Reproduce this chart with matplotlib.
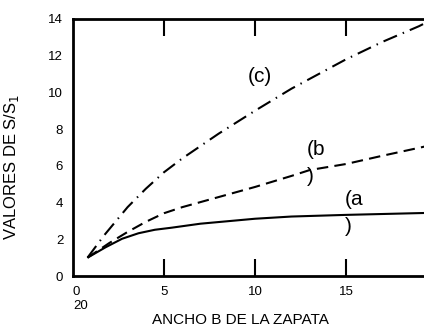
import matplotlib
matplotlib.use('Agg')
import matplotlib.pyplot as plt

plt.rcParams['font.family'] = ['Liberation Sans', 'DejaVu Sans']

# ancho de zapata B y relaciones S/S1 para cada curva
ancho_a = [0.8, 1.8, 2.7, 3.6, 4.5, 5.4, 7.0, 10.0, 12.0, 15.0, 20.0]
curva_a = [1.0, 1.57, 2.03, 2.33, 2.52, 2.63, 2.85, 3.12, 3.24, 3.33, 3.45]

ancho_b = [0.8, 2.0, 3.0, 4.0, 5.0, 6.0, 8.0, 10.0, 12.0, 13.0, 15.0, 17.0, 19.0, 20.0]
curva_b = [1.0, 1.8, 2.4, 2.95, 3.42, 3.75, 4.3, 4.85, 5.45, 5.77, 6.1, 6.55, 6.98, 7.2]

ancho_c = [0.8, 1.7, 3.0, 4.0, 5.0, 6.0, 8.0, 10.0, 12.0, 15.0, 17.0, 19.0, 19.3]
curva_c = [1.0, 2.2, 3.75, 4.75, 5.65, 6.4, 7.75, 9.0, 10.2, 11.8, 12.75, 13.6, 13.75]

xticks = [0, 5, 10, 15]
xlabels = ['0\n20', '5', '10', '15']
yticks = [0, 2, 4, 6, 8, 10, 12, 14]

fig = plt.figure(figsize=(4.24, 3.31), dpi=100)
ax = fig.add_axes([0.172, 0.166, 0.859, 0.777])

ax.plot(ancho_a, curva_a, color='black', lw=1.5, solid_capstyle='butt')
ax.plot(ancho_b, curva_b, color='black', lw=1.5, dashes=(5.5, 3))
ax.plot(ancho_c, curva_c, color='black', lw=1.5, dashes=(7, 3, 0.7, 3))

ax.set_xlim(0, 20)
ax.set_ylim(0, 14)

ax.set_xticks(xticks)
ax.set_xticklabels(xlabels)
for lbl in ax.get_xticklabels():
    if lbl.get_text().startswith('0'):
        lbl.set_horizontalalignment('left')
        lbl.set_multialignment('left')
ax.set_yticks(yticks)

ax.tick_params(axis='both', direction='in', length=12, width=1.5,
               labelsize=9.5, top=True, right=True, pad=7)
# sin marca en los extremos del eje
for t in ax.xaxis.get_major_ticks():
    if t.get_loc() == 0:
        t.tick1line.set_visible(False)
        t.tick2line.set_visible(False)
for t in ax.yaxis.get_major_ticks():
    if t.get_loc() in (0, 14):
        t.tick1line.set_visible(False)
        t.tick2line.set_visible(False)

for s in ax.spines.values():
    s.set_linewidth(2)

ax.text(10.27, 10.87, '(c)', fontsize=15, ha='center', va='center')
ax.text(12.86, 7.38, '(b\n)', fontsize=15, ha='left', va='top',
        multialignment='left', linespacing=1.5)
ax.text(14.95, 4.66, '(a\n)', fontsize=15, ha='left', va='top',
        multialignment='left', linespacing=1.5)

fig.text(0.028, 1 - 167 / 331, 'VALORES DE S/S$_1$', rotation=90,
         ha='center', va='center', fontsize=12)
fig.text(240 / 424, 1 - 320 / 331, 'ANCHO B DE LA ZAPATA',
         ha='center', va='center', fontsize=11)

fig.savefig('out.png', dpi=100)
